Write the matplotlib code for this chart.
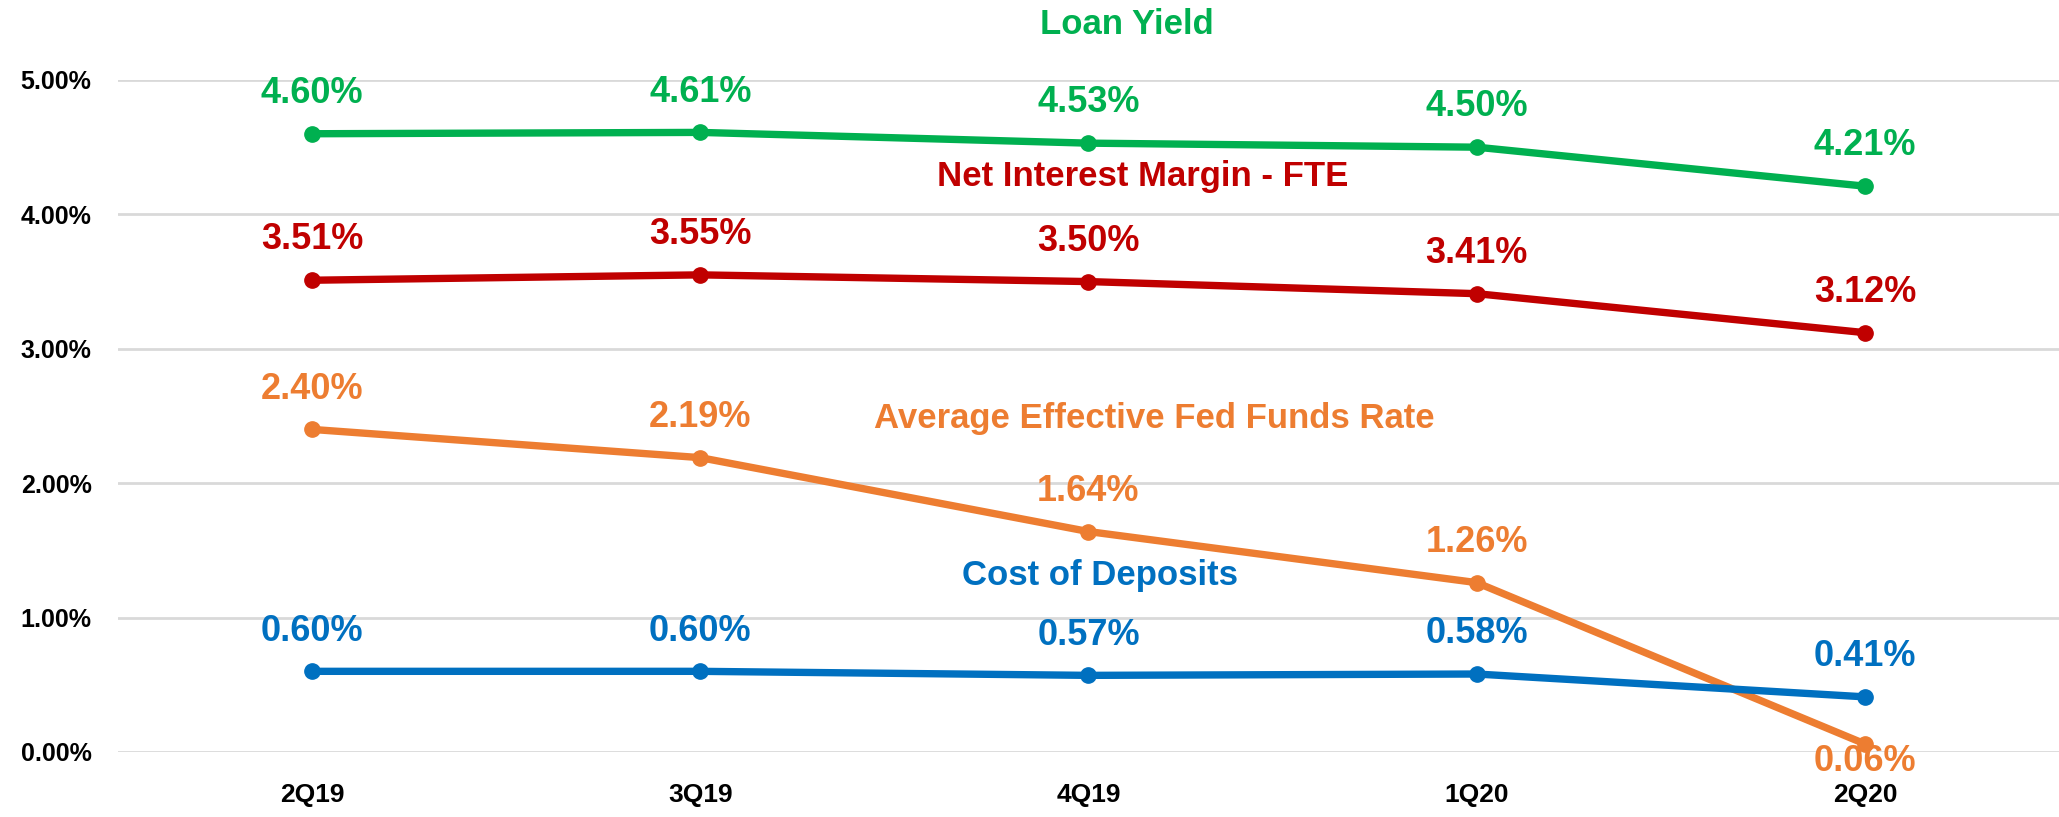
import numpy as np
import matplotlib
matplotlib.use("Agg")
import matplotlib.pyplot as plt
from matplotlib.ticker import FuncFormatter

quarters = ["2Q19", "3Q19", "4Q19", "1Q20", "2Q20"]
loan_yield = [4.60, 4.61, 4.53, 4.50, 4.21]
nim_fte = [3.51, 3.55, 3.50, 3.41, 3.12]
fed_funds = [2.40, 2.19, 1.64, 1.26, 0.06]
cost_deposits = [0.60, 0.60, 0.57, 0.58, 0.41]

plt.rcParams['font.family'] = ['Liberation Sans', 'DejaVu Sans']
plt.rcParams['font.weight'] = 'bold'

fig = plt.figure(figsize=(20.59, 8.17), dpi=100)
ax = fig.add_axes([0.0573, 0.0796, 0.9427, 0.8225])

x = np.arange(len(quarters))
series = [
    (loan_yield, "#00B050", "Loan Yield", (2.10, 5.41)),
    (nim_fte, "#C00000", "Net Interest Margin - FTE", (2.14, 4.28)),
    (fed_funds, "#ED7D31", "Average Effective Fed Funds Rate", (2.17, 2.48)),
    (cost_deposits, "#0070C0", "Cost of Deposits", (2.03, 1.31)),
]

for vals, col, name, (lx, ly) in series:
    ax.plot(x, vals, color=col, lw=5.3, marker="o", ms=11, zorder=3)
    for i, v in enumerate(vals):
        dy = 29
        if name.startswith("Average") and i == len(vals) - 1:
            dy = -13
        ax.annotate(f"{v:.2f}%", (i, v), xytext=(0, dy), textcoords="offset points",
                    ha="center", va="center", color=col, fontsize=26,
                    fontweight="bold", zorder=4)
    ax.text(lx, ly, name, color=col, fontsize=25, fontweight="bold",
            ha="center", va="center", clip_on=False)

ax.set_xlim(-0.5, 4.5)
ax.set_ylim(0, 5)
ax.set_yticks(np.arange(0, 5.01, 1))
ax.yaxis.set_major_formatter(FuncFormatter(lambda v, p: f"{v:.2f}%"))
ax.set_xticks(x)
ax.set_xticklabels(quarters)
ax.grid(axis="y", color="#D9D9D9", lw=2)
ax.set_axisbelow(True)
for s in ax.spines.values():
    s.set_visible(False)
ax.tick_params(axis="both", length=0)
ax.tick_params(axis="y", pad=19, labelsize=18)
ax.tick_params(axis="x", pad=22, labelsize=19)
for lab in ax.get_xticklabels() + ax.get_yticklabels():
    lab.set_fontweight("bold")

fig.savefig("out.png", dpi=100)
